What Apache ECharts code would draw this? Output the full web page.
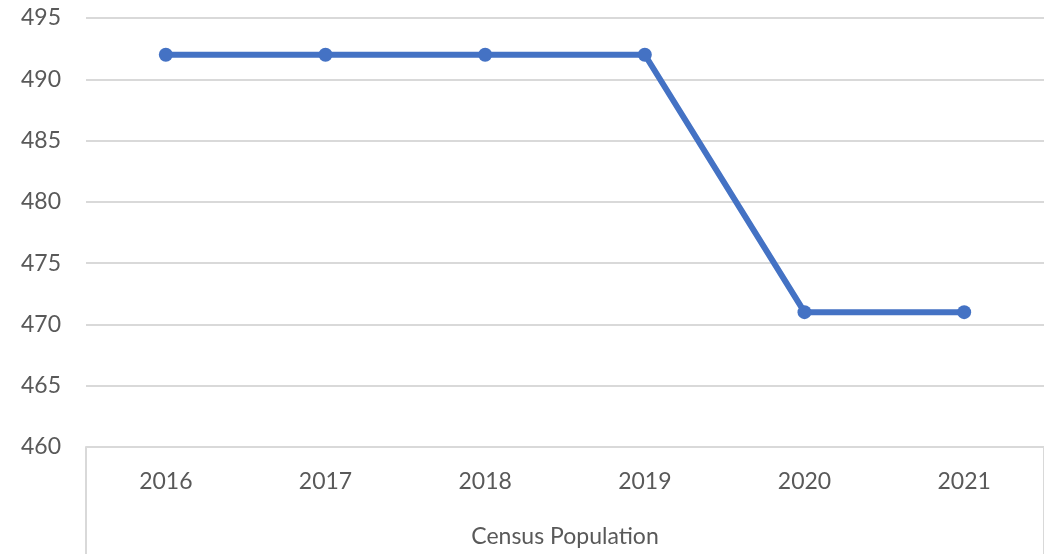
<!DOCTYPE html>
<html><head><meta charset="utf-8">
<script src="https://cdn.jsdelivr.net/npm/echarts@6/dist/echarts.min.js"></script>
<style>html,body{margin:0;padding:0;background:#fff;overflow:hidden}#c{width:1044px;height:554px}</style>
</head><body><div id="c"></div>
<script>
const categories = ['2016','2017','2018','2019','2020','2021'];
const censusPopulation = [492, 492, 492, 492, 471, 471];
const yTicks = {min: 460, max: 495, interval: 5};
const groupLabel = 'Census Population';

const font = 'Lato';
const chart = echarts.init(document.getElementById('c'));
chart.setOption({
  animation: false,
  grid: {left: 86, top: 18, width: 960, height: 429, containLabel: false},
  xAxis: {
    type: 'category', data: categories, boundaryGap: true,
    name: groupLabel, nameLocation: 'middle', nameGap: 78,
    nameTextStyle: {color: '#595959', fontSize: 23, fontFamily: font},
    axisLine: {show: true, lineStyle: {color: '#d9d9d9', width: 2}},
    axisTick: {show: true, interval: function(i){ return i === 0; }, length: 110, lineStyle: {color: '#d9d9d9', width: 2}},
    axisLabel: {color: '#595959', fontSize: 23, fontFamily: font, margin: 23}
  },
  yAxis: {
    type: 'value', min: yTicks.min, max: yTicks.max, interval: yTicks.interval,
    axisLine: {show: false}, axisTick: {show: false},
    splitLine: {lineStyle: {color: '#d9d9d9', width: 2}},
    axisLabel: {color: '#595959', fontSize: 23, fontFamily: font, margin: 25}
  },
  series: [{
    type: 'line', data: censusPopulation,
    lineStyle: {color: '#4472C4', width: 6},
    itemStyle: {color: '#4472C4'},
    symbol: 'circle', symbolSize: 14
  }]
});
</script></body></html>
